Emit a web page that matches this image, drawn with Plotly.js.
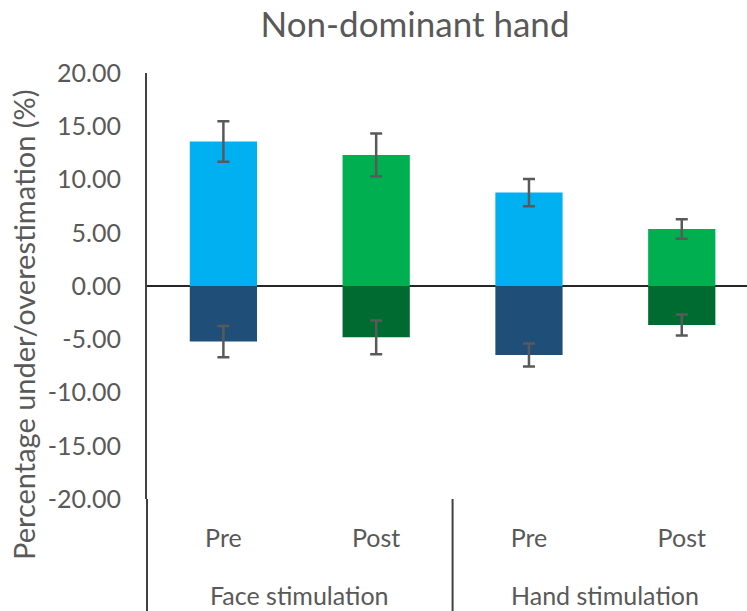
<!DOCTYPE html>
<html>
<head>
<meta charset="utf-8">
<script src="https://cdn.plot.ly/plotly-3.0.1.min.js"></script>
<style>
  html, body { margin: 0; padding: 0; background: #fff; }
  #chart { width: 747px; height: 611px; }
</style>
</head>
<body>
<div id="chart"></div>
<script>
// ---- data ----
const groups = ["Face stimulation", "Face stimulation", "Hand stimulation", "Hand stimulation"];
const phases = ["Pre", "Post", "Pre", "Post"];
const groupNames = ["Face stimulation", "Hand stimulation"];
const overValues = [13.56, 12.30, 8.77, 5.35];
const overErrors = [1.90, 2.02, 1.27, 0.91];
const underValues = [-5.22, -4.82, -6.48, -3.66];
const underErrors = [1.47, 1.58, 1.07, 0.98];
const overColors = ["#00B0F0", "#00B050", "#00B0F0", "#00B050"];
const underColors = ["#1F4E79", "#006B31", "#1F4E79", "#006B31"];
const yTickVals = [20, 15, 10, 5, 0, -5, -10, -15, -20];
const yTickText = ["20.00", "15.00", "10.00", "5.00", "0.00", "-5.00", "-10.00", "-15.00", "-20.00"];
const chartTitle = "Non-dominant hand";
const yTitle = "Percentage under/overestimation (%)";

// category keys (one per bar), labelled by phase on the axis
const categoryKeys = groups.map((g, i) => g + " / " + phases[i]);

const textColor = "#595959";
const lineColor = "#404040";
const fontFam = "Lato, 'Open Sans', sans-serif";
const errStyle = (arr) => ({ type: "data", array: arr, visible: true, color: "#595959", thickness: 2.5, width: 6 });

const traces = [
  {
    type: "bar",
    x: categoryKeys,
    y: overValues,
    marker: { color: overColors },
    error_y: errStyle(overErrors),
    width: 0.44,
    hoverinfo: "y",
    showlegend: false
  },
  {
    type: "bar",
    x: categoryKeys,
    y: underValues,
    marker: { color: underColors },
    error_y: errStyle(underErrors),
    width: 0.44,
    hoverinfo: "y",
    showlegend: false
  }
];

// group labels centred under each pair of bars, dividers between groups
const perGroup = categoryKeys.length / groupNames.length;
const groupAnnotations = groupNames.map((name, gi) => ({
  text: name,
  xref: "x",
  yref: "paper",
  x: gi * perGroup + (perGroup - 1) / 2,
  y: 0,
  xanchor: "center",
  yanchor: "middle",
  yshift: -96,
  showarrow: false,
  font: { family: fontFam, size: 25, color: textColor }
}));
const dividerShapes = [
  { type: "line", xref: "paper", yref: "paper", x0: 0, x1: 0, y0: 0, y1: -0.27,
    line: { color: lineColor, width: 2 } }
].concat(groupNames.slice(1).map((_, gi) => ({
  type: "line", xref: "x", yref: "paper",
  x0: (gi + 1) * perGroup - 0.5, x1: (gi + 1) * perGroup - 0.5, y0: 0, y1: -0.27,
  line: { color: lineColor, width: 2 }
})));

const layout = {
  width: 747,
  height: 611,
  margin: { l: 147, r: 0, t: 73, b: 112 },
  paper_bgcolor: "#ffffff",
  plot_bgcolor: "#ffffff",
  barmode: "overlay",
  font: { family: fontFam, size: 25, color: textColor },
  title: {
    text: chartTitle,
    font: { family: fontFam, size: 35, color: textColor },
    xref: "container",
    x: 415 / 747,
    xanchor: "center",
    yref: "container",
    y: 1 - 25 / 611,
    yanchor: "middle"
  },
  xaxis: {
    type: "category",
    range: [-0.5, 3.427],
    tickmode: "array",
    tickvals: categoryKeys,
    ticktext: phases,
    showline: false,
    showgrid: false,
    zeroline: false,
    ticks: "",
    ticklabelstandoff: 22,
    tickfont: { family: fontFam, size: 25, color: textColor }
  },
  yaxis: {
    range: [-20, 20],
    tickmode: "array",
    tickvals: yTickVals,
    ticktext: yTickText,
    showgrid: false,
    showline: true,
    linecolor: lineColor,
    linewidth: 2,
    zeroline: true,
    zerolinecolor: "#262626",
    zerolinewidth: 2.5,
    ticks: "",
    ticklabelstandoff: 19,
    layer: "above traces",
    tickfont: { family: fontFam, size: 25, color: textColor }
  },
  shapes: dividerShapes,
  annotations: [
    {
      text: yTitle,
      textangle: -90,
      xref: "paper",
      yref: "paper",
      x: 0,
      y: 0.5,
      xanchor: "center",
      yanchor: "middle",
      xshift: -124,
      yshift: -39,
      showarrow: false,
      font: { family: fontFam, size: 29, color: textColor }
    }
  ].concat(groupAnnotations)
};

Plotly.newPlot("chart", traces, layout, { displayModeBar: false, staticPlot: true });
</script>
</body>
</html>
